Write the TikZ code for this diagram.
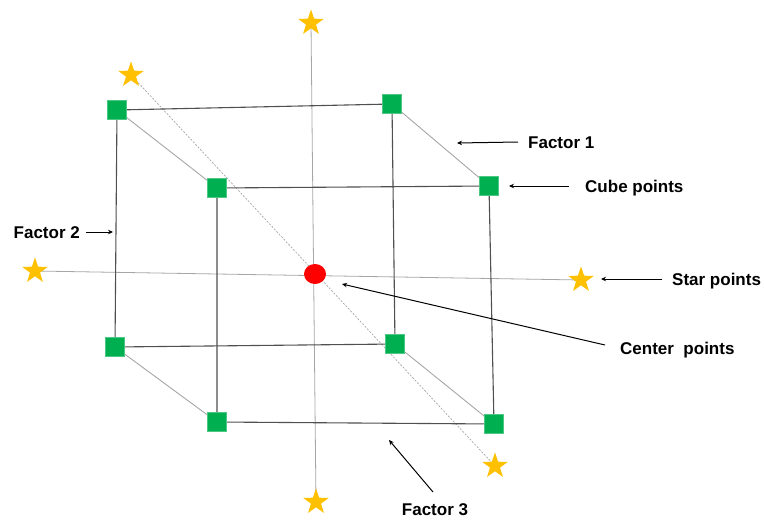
\documentclass[tikz,border=0pt]{standalone}
\usepackage{fontspec}
\setmainfont{Liberation Sans}
\usetikzlibrary{shapes.geometric,arrows.meta,backgrounds}
\definecolor{cubegreen}{HTML}{00B050}
\definecolor{stargold}{HTML}{FFC000}
\definecolor{edgegray}{HTML}{505050}
\definecolor{lightgray}{HTML}{A6A6A6}
\tikzset{
  cubept/.style={rectangle, fill=cubegreen, draw=cubegreen!70!white, line width=0.4pt, minimum size=19pt, inner sep=0pt},
  starpt/.style={star, star points=5, star point ratio=2.55, fill=stargold, draw=none, minimum size=27pt, inner sep=0pt},
  centerpt/.style={ellipse, fill=red, draw=none, minimum width=22pt, minimum height=20pt, inner sep=0pt},
  edge/.style={draw=edgegray, line width=1.1pt},
  link/.style={draw=lightgray, line width=0.9pt},
  axis/.style={draw=lightgray, line width=0.8pt},
  diag/.style={draw=lightgray, line width=0.7pt, dash pattern=on 2pt off 1.5pt},
  pointer/.style={draw=black, line width=1pt, -{Stealth[length=5pt,width=4.5pt]}},
  lbl/.style={font=\fontsize{17}{20}\selectfont\bfseries, inner sep=0pt}
}
\begin{document}
\begin{tikzpicture}[x=1pt,y=-1pt]
\useasboundingbox (0,0) rectangle (764,520);

% cube corners: back face
\node[cubept] (btl) at (117,110) {};
\node[cubept] (btr) at (392,104) {};
\node[cubept] (bbl) at (115,347) {};
\node[cubept] (bbr) at (395,344) {};
% cube corners: front face
\node[cubept] (ftl) at (217,188) {};
\node[cubept] (ftr) at (489,186) {};
\node[cubept] (fbl) at (217,422) {};
\node[cubept] (fbr) at (494,424) {};

% star points
\node[starpt] (stop) at (311,23) {};
\node[starpt] (sbot) at (316,502) {};
\node[starpt] (sleft) at (35,271) {};
\node[starpt] (sright) at (581,280) {};
\node[starpt] (sdiag1) at (131,75) {};
\node[starpt] (sdiag2) at (495,466) {};

% center point
\node[centerpt] (ctr) at (315,274) {};

\begin{scope}[on background layer]
  % axes through the center
  \draw[axis] (stop.center) -- (sbot.center);
  \draw[axis] (sleft.center) -- (sright.center);
  \draw[diag] (sdiag1.center) -- (sdiag2.center);
  % links between faces
  \draw[link] (btl.center) -- (ftl.center);
  \draw[link] (btr.center) -- (ftr.center);
  \draw[link] (bbl.center) -- (fbl.center);
  \draw[link] (bbr.center) -- (fbr.center);
  % back face
  \draw[edge] (btl.center) -- (btr.center) -- (bbr.center) -- (bbl.center) -- cycle;
  % front face
  \draw[edge] (ftl.center) -- (ftr.center) -- (fbr.center) -- (fbl.center) -- cycle;
\end{scope}

% labels
\node[lbl, anchor=west] (f1) at (528,143) {Factor 1};
\node[lbl, anchor=west] (cp) at (585,188) {Cube points};
\node[lbl, anchor=east] (f2) at (80,233) {Factor 2};
\node[lbl, anchor=west] (sp) at (672,281) {Star points};
\node[lbl, anchor=west] (cn) at (620,350) {Center~ points};
\node[lbl] (f3) at (435,510) {Factor 3};

% free ends of the pointers
\coordinate (f1tail) at (518,142);
\coordinate (f1tip) at (457,143);
\coordinate (cptail) at (569,186);
\coordinate (cptip) at (509,186);
\coordinate (f2tail) at (86,232);
\coordinate (f2tip) at (113,232);
\coordinate (sptail) at (662,279);
\coordinate (sptip) at (601,279);
\coordinate (cntail) at (605,345);
\coordinate (cntip) at (342,284);
\coordinate (f3tail) at (433,492);
\coordinate (f3tip) at (389,440);

% pointers
\draw[pointer] (f1tail) -- (f1tip);
\draw[pointer] (cptail) -- (cptip);
\draw[pointer] (f2tail) -- (f2tip);
\draw[pointer] (sptail) -- (sptip);
\draw[pointer] (cntail) -- (cntip);
\draw[pointer] (f3tail) -- (f3tip);
\end{tikzpicture}
\end{document}
